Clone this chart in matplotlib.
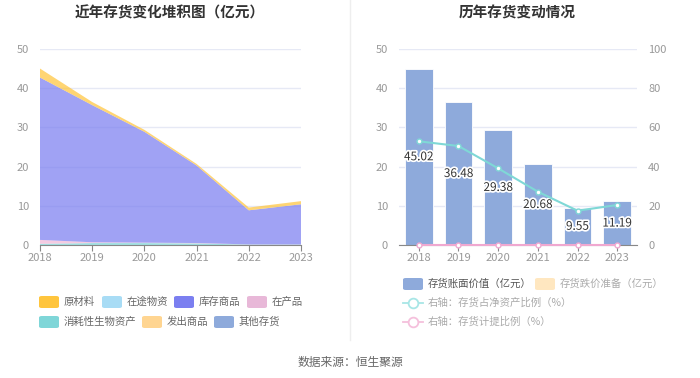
import numpy as np
import matplotlib
matplotlib.use("Agg")
import matplotlib.pyplot as plt
from matplotlib.patches import FancyBboxPatch
from matplotlib.lines import Line2D
import matplotlib.patheffects as pe

plt.rcParams['font.family'] = ['Noto Sans CJK SC', 'DejaVu Sans']

# ---- data ----
years = ['2018', '2019', '2020', '2021', '2022', '2023']
consumable_bio = [0.3, 0.5, 0.5, 0.4, 0.1, 0.1]      # 消耗性生物资产
work_in_progress = [1.0, 0.2, 0.1, 0.1, 0.05, 0.05]   # 在产品
in_transit = [0, 0, 0, 0, 0, 0]                       # 在途物资
stock_goods = [41.42, 34.98, 28.28, 19.78, 8.70, 10.24]  # 库存商品
shipped_goods = [0, 0, 0, 0, 0, 0]                    # 发出商品
raw_material = [2.3, 0.8, 0.5, 0.4, 0.7, 0.8]         # 原材料
other_stock = [0, 0, 0, 0, 0, 0]                      # 其他存货

book_value = [45.02, 36.48, 29.38, 20.68, 9.55, 11.19]
impairment = [0, 0, 0, 0, 0, 0]
pct_net_assets = [52.9, 50.5, 39.1, 27.2, 17.5, 20.4]
pct_provision = [0, 0, 0, 0, 0, 0]

W, H = 700, 378
fig = plt.figure(figsize=(7, 3.78), dpi=100)

def ax_rect(x0, y0, x1, y1):
    return [x0 / W, 1 - y1 / H, (x1 - x0) / W, (y1 - y0) / H]

grid_c = '#e6e9f5'
tick_c = '#999999'

# ---- left: stacked area ----
ax1 = fig.add_axes(ax_rect(40, 49, 301, 245))
x = np.arange(len(years))
layers = [consumable_bio, work_in_progress, in_transit, stock_goods,
          shipped_goods, other_stock, raw_material]
colors = ['#7fd6d8', '#f0b8d8', '#a8dcf5', '#7b7ff0', '#ffd591', '#8eaadb', '#ffc53d']
ax1.stackplot(x, *layers, colors=colors, alpha=0.72, linewidth=0)
ax1.set_xlim(0, len(years) - 1)
ax1.set_ylim(0, 50)
ax1.set_yticks(range(0, 51, 10))
ax1.set_xticks(x)
ax1.set_xticklabels(years)

# ---- right: bars + lines ----
ax2 = fig.add_axes(ax_rect(399, 49, 637, 245))
ax2.bar(x, book_value, width=0.7, color='#8eaadb', edgecolor='white', linewidth=0.6, zorder=2)
for xi, v in zip(x, book_value):
    ax2.text(xi, v / 2, f'{v:.2f}', ha='center', va='center', fontsize=8.5, color='#333333',
             path_effects=[pe.withStroke(linewidth=2.5, foreground='white')], zorder=5)
ax2.set_xlim(-0.5, len(years) - 0.5)
ax2.set_ylim(0, 50)
ax2.set_yticks(range(0, 51, 10))
ax2.set_xticks(x)
ax2.set_xticklabels(years)

ax3 = ax2.twinx()
ax3.plot(x, pct_net_assets, color='#7fd8d6', lw=1.5, marker='o', ms=3.5,
         mfc='white', mec='#7fd8d6', zorder=4)
ax3.plot(x, pct_provision, color='#f0a8d0', lw=1.5, marker='o', ms=3.5,
         mfc='white', mec='#f0a8d0', zorder=4, clip_on=False)
ax3.set_ylim(0, 100)
ax3.set_yticks(range(0, 101, 20))

for a in (ax1, ax2, ax3):
    for s in a.spines.values():
        s.set_visible(False)
    a.tick_params(axis='y', length=0, colors=tick_c, labelsize=8, pad=8)
    a.tick_params(axis='x', length=4, color='#888888', colors=tick_c, labelsize=8, pad=2)
for a in (ax1, ax2):
    a.spines['bottom'].set_visible(True)
    a.spines['bottom'].set_color('#888888')
    a.yaxis.grid(True, color=grid_c, lw=1)
    a.set_axisbelow(True)
ax3.tick_params(axis='x', length=0)

# ---- titles, divider, source ----
fig.text(170 / W, 1 - 13 / H, '近年存货变化堆积图（亿元）', ha='center', va='center',
         fontsize=10.5, fontweight='bold', color='#333333')
fig.text(517 / W, 1 - 13 / H, '历年存货变动情况', ha='center', va='center',
         fontsize=10.5, fontweight='bold', color='#333333')
fig.add_artist(Line2D([350 / W, 350 / W], [1 - 340 / H, 1.0], color='#eeeeee', lw=1))
fig.text(350 / W, 1 - 362 / H, '数据来源：恒生聚源', ha='center', va='center',
         fontsize=8.5, color='#666666')

# ---- legends ----
def patch(px, py, color, alpha=1.0):
    fig.add_artist(FancyBboxPatch(((px) / W, 1 - (py + 6) / H), 20 / W, 12 / H,
                                  boxstyle='round,pad=0,rounding_size=0.004',
                                  fc=color, ec='none', alpha=alpha,
                                  transform=fig.transFigure))

def label(px, py, s, color='#666666'):
    fig.text(px / W, 1 - py / H, s, ha='left', va='center', fontsize=7.5, color=color)

left_items = [
    (39, 302, '#ffc53d', '原材料'), (102, 302, '#a8dcf5', '在途物资'),
    (174, 302, '#7b7ff0', '库存商品'), (247, 302, '#e8b8d8', '在产品'),
    (39, 322, '#7fd6d8', '消耗性生物资产'), (142, 322, '#ffd591', '发出商品'),
    (214, 322, '#8eaadb', '其他存货'),
]
for px, py, c, s in left_items:
    patch(px, py, c)
    label(px + 25, py, s)

patch(403, 284, '#8eaadb')
label(428, 284, '存货账面价值（亿元）', '#555555')
patch(535, 284, '#ffe7c0')
label(560, 284, '存货跌价准备（亿元）', '#aaaaaa')
for py, c, s in [(303, '#a8e6e6', '右轴：存货占净资产比例（%）'),
                 (322, '#f5c0dc', '右轴：存货计提比例（%）')]:
    fig.add_artist(Line2D([403 / W, 423 / W], [1 - py / H, 1 - py / H], color=c, lw=1.3,
                          transform=fig.transFigure))
    fig.add_artist(Line2D([413 / W], [1 - py / H], color=c, marker='o', ms=7, mfc='white',
                          mec=c, mew=1.3, transform=fig.transFigure))
    label(428, py, s, '#aaaaaa')

fig.savefig('out.png', dpi=100)
